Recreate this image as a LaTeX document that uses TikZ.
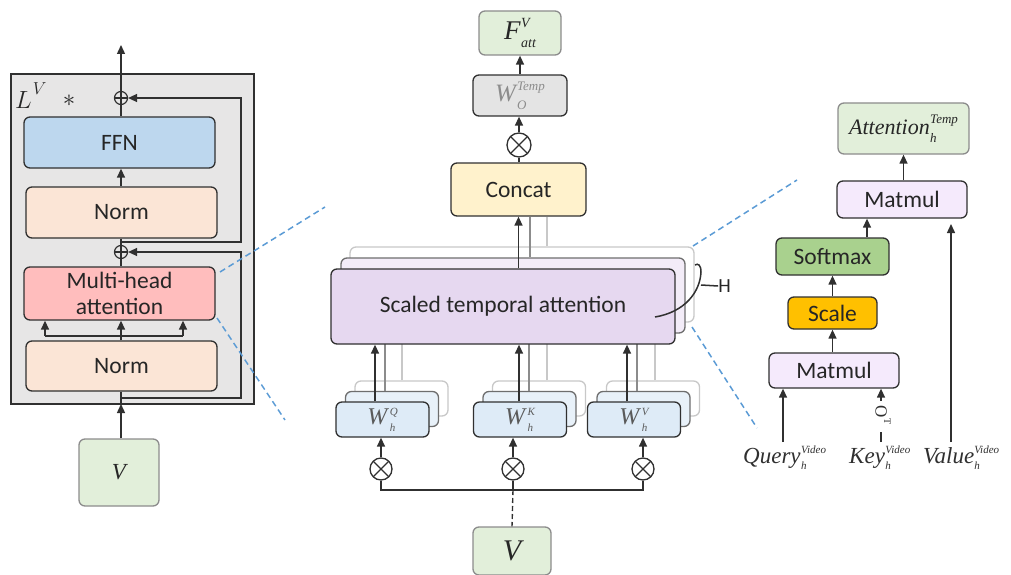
\documentclass[tikz,border=0pt]{standalone}
\usepackage{fontspec}
\setmainfont{Carlito}
\newfontfamily\tnr{Liberation Serif}
\usetikzlibrary{arrows.meta,calc}
\definecolor{dk}{HTML}{303030}
\definecolor{txt}{HTML}{262626}
\definecolor{panel}{HTML}{E7E6E6}
\definecolor{ffnc}{HTML}{BDD7EE}
\definecolor{normc}{HTML}{FBE5D6}
\definecolor{mhac}{HTML}{FFBDBD}
\definecolor{grn}{HTML}{E2EFDA}
\definecolor{woc}{HTML}{E4E4E4}
\definecolor{concc}{HTML}{FFF2CC}
\definecolor{stac}{HTML}{E6D8F0}
\definecolor{stac2}{HTML}{F3ECF8}
\definecolor{wc}{HTML}{DEEBF7}
\definecolor{mmc}{HTML}{F5EAFC}
\definecolor{softc}{HTML}{A9D18E}
\definecolor{scalec}{HTML}{FFC000}
\definecolor{dblue}{HTML}{5B9BD5}
\definecolor{midg}{HTML}{8C8C8C}
\definecolor{lgt}{HTML}{C8C8C8}
\newcommand\sy[6]{{\tnr\itshape\fontsize{#4}{#4}\selectfont #1\kern#6\fontsize{#5}{#5}\selectfont\ooalign{\raisebox{0.85em}{#3}\cr\raisebox{-0.6em}{#2}\cr}}}
\tikzset{
  box/.style={draw=dk, line width=1.3pt, rounded corners=6pt, inner sep=0pt, align=center,
    text=txt, font=\fontsize{23.5}{27}\selectfont},
  gbox/.style={box, draw=midg, fill=grn},
  arr/.style={-{Triangle[length=9pt,width=8pt]}, line width=1.4pt, draw=dk},
  ln/.style={line width=1.4pt, draw=dk},
  shl2/.style={line width=1.3pt, draw=midg},
  shl3/.style={line width=1.3pt, draw=lgt},
  opl/.style={circle, draw=dk, line width=1.2pt, minimum size=13pt, inner sep=0pt,
    path picture={\draw[dk, line width=1.2pt] (path picture bounding box.north) -- (path picture bounding box.south)
      (path picture bounding box.west) -- (path picture bounding box.east);}},
  otm/.style={circle, draw=dk, line width=1.3pt, minimum size=#1, inner sep=0pt,
    path picture={\draw[dk, line width=1.3pt] (path picture bounding box.north west) -- (path picture bounding box.south east)
      (path picture bounding box.north east) -- (path picture bounding box.south west);}},
  dsh/.style={draw=dblue, dash pattern=on 6pt off 4pt, line width=1.5pt},
  wb/.style={box, fill=wc, minimum width=93pt, minimum height=35pt},
  wb2/.style={box, draw=dk!70, fill=wc!70, minimum width=93pt, minimum height=35pt},
  wb3/.style={box, draw=lgt, fill=white, minimum width=93pt, minimum height=35pt},
}
\begin{document}
\begin{tikzpicture}[x=1pt,y=-1pt]
\useasboundingbox (0,0) rectangle (1011,575);

% ---------------- left panel ----------------
\draw[fill=panel, draw=dk, line width=1.5pt] (11,74) rectangle (254,404);
\node[anchor=base west, inner sep=0pt, text=txt] (lv) at (15,109) {\fontsize{38}{38}\selectfont$L$\kern1pt\raisebox{14pt}{\fontsize{19}{19}\selectfont$V$}};
\node[inner sep=0pt, text=txt] (star) at (69,101) {\fontsize{26}{26}\selectfont$\ast$};

\node[opl] (p1) at (121,98) {};
\node[opl] (p2) at (121,252) {};
\node[box, fill=ffnc, minimum width=191pt, minimum height=51pt] (ffn) at (119.5,142.5) {FFN};
\node[box, fill=normc, minimum width=191pt, minimum height=51pt] (n1) at (121.5,212.5) {Norm};
\node[box, fill=mhac, minimum width=191pt, minimum height=53pt, font=\fontsize{23.5}{26}\selectfont] (mha) at (119.5,293.5) {Multi-head\\attention};
\node[box, fill=normc, minimum width=191pt, minimum height=50pt] (n2) at (121.5,366) {Norm};
\node[gbox, minimum width=80pt, minimum height=67pt] (vl) at (119,472.5) {\tnr\itshape\fontsize{23}{23}\selectfont V};

\coordinate (out) at (121,45);
\coordinate (inb) at (121,404);
\draw[arr] (p1.north) -- (out);
\draw[ln] (ffn.north -| p1) -- (p1.south);
\draw[arr] (n1.north -| p1) -- (ffn.south -| p1);
\draw[ln] (n1.south -| p2) -- (p2.north);
\draw[ln] (mha.north -| p2) -- (p2.south);
\coordinate (br) at (121,336);
\draw[ln] (n2.north -| br) -- (br);
\draw[ln] (45,336) -- (183,336);
\draw[arr] (br) -- (mha.south -| br);
\draw[arr] (45,336) -- (mha.south -| 45,0);
\draw[arr] (183,336) -- (mha.south -| 183,0);
\draw[arr] (vl.north -| inb) -- (inb);
\draw[ln] (n2.south -| inb) -- (inb);
\draw[arr] (121,398) -- (241,398) -- (241,252) -- (p2.east);
\draw[arr] (121,242) -- (241,242) -- (241,98) -- (p1.east);

% dashed zoom lines
\coordinate (d1a) at (220,272); \coordinate (d1b) at (325,207);
\coordinate (d2a) at (217,318); \coordinate (d2b) at (285,420);
\coordinate (d3a) at (693,246); \coordinate (d3b) at (797,180);
\coordinate (d4a) at (692,327); \coordinate (d4b) at (757,428);
\draw[dsh] (d1a) -- (d1b);
\draw[dsh] (d2a) -- (d2b);
\draw[dsh] (d3a) -- (d3b);
\draw[dsh] (d4a) -- (d4b);

% ---------------- middle panel ----------------
\node[gbox, minimum width=82pt, minimum height=44pt] (fatt) at (520,33) {\sy{F}{att}{V}{27}{14}{0.5pt}};
\node[box, fill=woc, minimum width=94pt, minimum height=41pt, text=midg] (wo) at (520,95.5) {\sy{W}{O}{Temp}{25}{13}{1pt}};
\node[otm=24pt] (o0) at (519,145) {};
\node[box, fill=concc, minimum width=135pt, minimum height=53pt] (concat) at (518.5,189.5) {Concat};

% layer 3
\node[box, draw=lgt, fill=white, minimum width=344pt, minimum height=75pt] (sta3) at (522,284.5) {};
\node[wb3] (wq3) at (401.5,398.5) {};
\node[wb3] (wk3) at (539,398.5) {};
\node[wb3] (wv3) at (653,398.5) {};
\draw[shl3] (wq3.north -| 402,0) -- (sta3.south -| 402,0);
\draw[shl3] (wk3.north -| 547,0) -- (sta3.south -| 547,0);
\draw[shl3] (wv3.north -| 655,0) -- (sta3.south -| 655,0);
\draw[shl3] (sta3.north -| 547,0) -- (concat.south -| 547,0);
% layer 2
\node[box, draw=dk!70, fill=stac2, minimum width=344pt, minimum height=75pt] (sta2) at (513,295.5) {};
\node[wb2] (wq2) at (392,409) {};
\node[wb2] (wk2) at (529.5,409) {};
\node[wb2] (wv2) at (643.5,409) {};
\draw[shl2] (wq2.north -| 385,0) -- (sta2.south -| 385,0);
\draw[shl2] (wk2.north -| 529,0) -- (sta2.south -| 529,0);
\draw[shl2] (wv2.north -| 637,0) -- (sta2.south -| 637,0);
\draw[shl2] (sta2.north -| 530,0) -- (concat.south -| 530,0);
% front
\node[box, fill=stac, minimum width=344pt, minimum height=75pt] (sta) at (503,306.5) {Scaled temporal attention};
\node[wb, text=dk!80] (wq) at (382.5,419.5) {\sy{W}{h}{Q}{24}{11}{2.5pt}};
\node[wb, text=dk!80] (wk) at (520,419.5) {\sy{W}{h}{K}{24}{11}{2.5pt}};
\node[wb, text=dk!80] (wv) at (634,419.5) {\sy{W}{h}{V}{24}{11}{2.5pt}};

\draw[arr] ([xshift=-7.5pt]wq.north) -- ([xshift=-7.5pt]wq.north |- sta.south);
\draw[arr] ([xshift=-1pt]wk.north) -- ([xshift=-1pt]wk.north |- sta.south);
\draw[arr] ([xshift=-7pt]wv.north) -- ([xshift=-7pt]wv.north |- sta.south);
\draw[arr] (concat.south |- sta.north) -- (concat.south);
\draw[ln] (concat.north -| o0) -- (o0.south);
\draw[arr] (o0.north) -- (wo.south -| o0);
\draw[arr] (wo.north) -- (fatt.south);

% H brace
\draw[line width=1.5pt, dk] (655,317) .. controls (685,312) and (700,292) .. (701,272) .. controls (701,265) and (698,263) .. (695,265);
\coordinate (hl) at (701,285);
\node[inner sep=0pt, text=txt, font=\fontsize{20}{20}\selectfont] (H) at (724.5,286) {H};
\draw[line width=1.5pt, dk] (hl) -- (H.west);

% bottom otimes
\node[otm=22pt] (oq) at (381,469) {};
\node[otm=22pt] (ok) at (513,469) {};
\node[otm=22pt] (ov) at (643,469) {};
\draw[arr] (oq.north) -- (oq |- wq.south);
\draw[arr] (ok.north) -- (ok |- wk.south);
\draw[arr] (ov.north) -- (ov |- wv.south);
\coordinate (bj) at (513,490);
\draw[ln] (oq.south) -- (oq |- bj) -- (ov |- bj) -- (ov.south);
\draw[ln] (ok.south) -- (bj);
\node[gbox, minimum width=78pt, minimum height=48pt] (vb) at (512,551) {\tnr\itshape\fontsize{30}{30}\selectfont V};
\draw[ln, dash pattern=on 5pt off 3pt] (bj) -- (vb.north);

% ---------------- right panel ----------------
\node[gbox, minimum width=131pt, minimum height=51pt] (attn) at (903.5,128.5) {\sy{Attention}{h}{Temp}{22}{13}{0.5pt}};
\node[box, fill=mmc, minimum width=130pt, minimum height=37pt] (mm1) at (902,199.5) {Matmul};
\node[box, fill=softc, minimum width=113pt, minimum height=37pt] (soft) at (832.5,256.5) {Softmax};
\node[box, fill=scalec, minimum width=89pt, minimum height=32pt] (scale) at (832.5,313) {Scale};
\node[box, fill=mmc, minimum width=130pt, minimum height=35pt] (mm2) at (834,370.5) {Matmul};

\draw[arr] (mm1.north -| attn) -- (attn.south);
\draw[arr] (soft.north -| 867,0) -- (mm1.south -| 867,0);
\draw[arr] (scale.north) -- (soft.south -| scale);
\draw[arr] (mm2.north -| scale) -- (scale.south);

\node[anchor=base west, inner sep=0pt, text=dk] (q) at (743,463) {\sy{Query}{h}{Video}{23}{11}{0.5pt}};
\node[anchor=base west, inner sep=0pt, text=dk] (k) at (849,463) {\sy{Key}{h}{Video}{23}{11}{0.5pt}};
\node[anchor=base west, inner sep=0pt, text=dk] (v) at (923,463) {\sy{Value}{h}{Video}{23}{11}{0pt}};
\coordinate (qs) at (783,442);
\coordinate (ks) at (881,442);
\coordinate (vs) at (951,442);
\draw[arr] (qs) -- (mm2.south -| qs);
\draw[ln] (ks) -- (881,432);
\node[rotate=-90, inner sep=0pt, text=dk] (tr) at (883,415) {\tnr\fontsize{17}{17}\selectfont O\raisebox{0.5em}{\fontsize{10}{10}\selectfont T}};
\draw[arr] (881,401) -- (mm2.south -| ks);
\draw[arr] (vs) -- (951,224);
\end{tikzpicture}
\end{document}
